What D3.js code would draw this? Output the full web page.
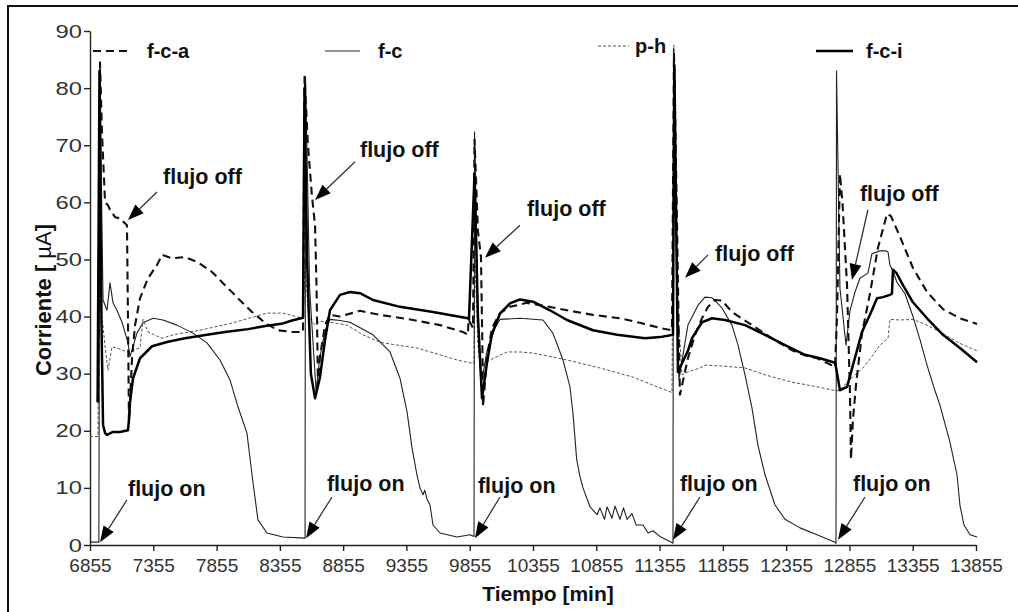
<!DOCTYPE html>
<html>
<head>
<meta charset="utf-8">
<script src="https://cdn.jsdelivr.net/npm/d3@7"></script>
<style>
  body { margin: 0; background: #fff; }
  svg { display: block; }
</style>
</head>
<body>
<svg id="chart" width="1018" height="612"></svg>
<script>
// Tick values
const xTicks = [6855, 7355, 7855, 8355, 8855, 9355, 9855, 10355, 10855, 11355, 11855, 12355, 12855, 13355, 13855];
const yTicks = [0, 10, 20, 30, 40, 50, 60, 70, 80, 90];

// Series: [tiempo (min), corriente (µA)]
const fca = [
  [6920, 25], [6934, 84.5], [6950, 72], [6974, 60], [6997, 59.5], [7013, 58.7], [7053, 57.4], [7092, 57.2],
  [7147, 56], [7155, 40], [7163, 21.5], [7171, 25], [7187, 32.7], [7211, 38.5], [7250, 43.2], [7313, 46.7],
  [7384, 49], [7424, 50.8], [7503, 50.2], [7606, 50.4], [7708, 49.5], [7819, 47.8], [7922, 45.5], [8024, 43.2],
  [8135, 40.8], [8238, 38.9], [8340, 37.6], [8451, 37.3], [8538, 37.3], [8550, 82], [8577, 70], [8609, 61],
  [8633, 56], [8645, 45], [8656, 28], [8672, 33], [8712, 38.5], [8751, 40.3], [8830, 40], [8988, 41],
  [9146, 40.3], [9407, 39.4], [9620, 38.5], [9802, 37.3], [9841, 36.8], [9845, 39.5], [9881, 38], [9893, 71],
  [9920, 55], [9944, 50.4], [9955, 35], [9960, 24.2], [9992, 33], [10031, 38], [10094, 40.6], [10173, 41.7],
  [10307, 42.4], [10410, 42], [10623, 41.1], [10829, 40.3], [11042, 39.7], [11200, 38.9], [11358, 38],
  [11453, 37.6], [11469, 86], [11490, 60], [11508, 35], [11516, 26.3], [11579, 32.7], [11635, 36.8],
  [11690, 39.7], [11738, 41.7], [11793, 42.9], [11848, 42.8], [11927, 40.8], [12085, 38.5], [12243, 36.2],
  [12401, 34.1], [12504, 33.2], [12599, 32.7], [12741, 31.2], [12757, 40], [12780, 65], [12800, 60],
  [12836, 45.5], [12859, 26.8], [12867, 15], [12883, 22], [12907, 28], [12954, 37], [13017, 44], [13080, 52],
  [13152, 58], [13183, 57.6], [13254, 54], [13357, 48.5], [13468, 44.3], [13594, 41.3], [13728, 39.7], [13863, 38.7]
];

const fc = [
  [6855, 0.5], [6925, 0.5], [6934, 84], [6950, 55], [6958, 42.9], [6989, 41.1], [7013, 45.9], [7037, 42.4],
  [7068, 41.1], [7108, 39], [7155, 35.4], [7171, 33], [7226, 37.1], [7274, 38.9], [7353, 39.7], [7432, 39.4],
  [7542, 38.5], [7669, 37.1], [7779, 35.4], [7882, 32.4], [7961, 28.9], [8024, 24.2], [8095, 19.6],
  [8143, 10.9], [8182, 4.4], [8253, 2.1], [8380, 1.4], [8554, 1.2], [8558, 82], [8590, 45], [8641, 27],
  [8672, 33], [8712, 37.5], [8751, 39.5], [8830, 39.3], [8909, 39], [9091, 36.8], [9225, 33.8], [9304, 29.2],
  [9360, 23.3], [9399, 17], [9438, 12.3], [9462, 10], [9486, 8.8], [9500, 9.6], [9518, 8], [9541, 7],
  [9565, 3.5], [9620, 2.1], [9755, 1.4], [9857, 1.8], [9889, 1.5], [9893, 72.3], [9920, 40], [9944, 28],
  [9992, 34], [10055, 38], [10094, 39.5], [10252, 39.7], [10434, 39.4], [10512, 37.1], [10592, 32.4],
  [10647, 27.7], [10671, 23], [10700, 15], [10726, 12], [10750, 10], [10805, 6.7], [10861, 5.3], [10884, 6.5],
  [10920, 4.5], [10940, 6.7], [10979, 4.7], [11003, 6.8], [11042, 4.5], [11070, 6.5], [11098, 4.5],
  [11137, 5.5], [11170, 3.5], [11224, 3.5], [11264, 2.1], [11303, 2.5], [11358, 1.5], [11437, 0.6],
  [11461, 0.3], [11465, 87], [11490, 50], [11508, 29], [11579, 38.5], [11659, 42], [11714, 43.4],
  [11769, 43.3], [11848, 41.5], [11927, 38.5], [11975, 35], [12030, 29.8], [12085, 24], [12132, 17.5],
  [12188, 12.3], [12267, 7], [12346, 4.5], [12464, 3], [12599, 1.8], [12741, 0.5], [12749, 0.3], [12753, 83],
  [12780, 45], [12828, 35], [12859, 41], [12899, 44.3], [12938, 46.7], [13001, 47.6], [13033, 51],
  [13096, 51.5], [13144, 51.5], [13160, 51.3], [13175, 49], [13199, 48], [13230, 46], [13294, 44],
  [13357, 40], [13412, 36], [13468, 31.5], [13531, 27], [13570, 24.5], [13649, 18], [13705, 12.3],
  [13728, 7], [13760, 3.5], [13808, 1.8], [13863, 1.4]
];

const ph = [
  [6855, 19], [6918, 19], [6926, 60], [6950, 40], [6974, 34.7], [6997, 30.6], [7029, 34.7], [7068, 34.5],
  [7147, 33.8], [7250, 34.5], [7274, 39.5], [7313, 37.3], [7424, 36.2], [7511, 36.8], [7724, 37.6],
  [7985, 38.9], [8253, 40.6], [8380, 40.6], [8538, 39.7], [8554, 50], [8580, 40], [8633, 38.5], [8672, 39.2],
  [8751, 39], [8885, 38.5], [9012, 36.8], [9146, 35.5], [9280, 35], [9438, 34.5], [9620, 33.3], [9755, 32.4],
  [9857, 31.9], [9889, 31.8], [9897, 50], [9920, 35], [9936, 31.2], [10015, 32.4], [10150, 33.8],
  [10252, 33.8], [10355, 33.6], [10623, 32.4], [10884, 31], [11145, 29.4], [11335, 27.7], [11453, 26.7],
  [11469, 87.5], [11490, 45], [11532, 29.8], [11579, 30.3], [11674, 31], [11714, 31.5], [11872, 31.3],
  [12030, 31], [12188, 29.8], [12401, 28.5], [12504, 28.1], [12622, 27.6], [12749, 27], [12780, 27.1],
  [12859, 29], [12962, 31], [13033, 33], [13096, 35], [13160, 36.2], [13175, 39.5], [13254, 39.4],
  [13357, 39.5], [13468, 38.5], [13594, 37], [13728, 35.3], [13863, 34]
];

const fci = [
  [6915, 25], [6930, 83], [6945, 40], [6958, 21], [6974, 19.6], [6989, 19.3], [7037, 19.8], [7092, 19.8],
  [7155, 20.1], [7163, 21.9], [7171, 25], [7195, 29.2], [7250, 32.7], [7345, 34.8], [7471, 35.6],
  [7606, 36.2], [7779, 36.8], [7922, 37.3], [8103, 37.8], [8253, 38.4], [8380, 38.8], [8451, 39.3],
  [8538, 39.8], [8550, 80], [8570, 50], [8600, 30], [8633, 25.7], [8672, 29.4], [8712, 35.9], [8751, 41.1],
  [8830, 43.8], [8909, 44.3], [8988, 44.1], [9091, 42.9], [9304, 41.7], [9565, 40.8], [9841, 39.7],
  [9849, 39.5], [9893, 65], [9920, 40], [9952, 25.7], [9992, 32], [10031, 37], [10094, 40.5], [10173, 42.3],
  [10252, 43], [10355, 42.6], [10489, 41.1], [10623, 39.4], [10829, 37.6], [11019, 36.8], [11240, 36.2],
  [11358, 36.4], [11461, 36.8], [11472, 84], [11490, 50], [11500, 30.3], [11579, 34], [11611, 36.2],
  [11690, 39], [11769, 39.7], [11872, 39.4], [12030, 38.5], [12188, 36.8], [12346, 35], [12504, 33.3],
  [12622, 32.7], [12741, 31.9], [12750, 31], [12780, 27.1], [12836, 27.7], [12883, 31.5], [12954, 37.3],
  [13017, 40.3], [13073, 43.2], [13120, 43.4], [13175, 43.8], [13191, 44], [13199, 48.2], [13230, 47.5],
  [13278, 45.5], [13357, 42.5], [13468, 39.7], [13594, 36.8], [13728, 34.5], [13863, 32]
];

// Annotations in data units: arrow tip, arrow tail, label anchor
const offNotes = [
  { tip: [7155, 56.9], tail: [7384, 61.8], at: [7432, 63.2] },
  { tip: [8633, 60.4], tail: [8949, 67.1], at: [8988, 67.9] },
  { tip: [9976, 50.3], tail: [10252, 56.0], at: [10307, 57.6] },
  { tip: [11556, 46.8], tail: [11738, 50.8], at: [11793, 49.7] },
  { tip: [12875, 46.4], tail: [13001, 58.7], at: [12938, 60.2] }
];
const onNotes = [
  { tip: [6934, 0.5], tail: [7147, 7.9], at: [7155, 8.6] },
  { tip: [8562, 1.2], tail: [8767, 8.4], at: [8727, 9.5] },
  { tip: [9897, 1.2], tail: [10094, 8.4], at: [9920, 9.1] },
  { tip: [11461, 0.9], tail: [11674, 8.4], at: [11516, 9.5] },
  { tip: [12765, 0.9], tail: [12978, 8.4], at: [12883, 9.5] }
];

const svg = d3.select("#chart");
const x = d3.scaleLinear().domain([6855, 13855]).range([90, 976]);
const y = d3.scaleLinear().domain([0, 90]).range([545, 31]);

// Outer frame
svg.append("rect")
  .attr("x", 8).attr("y", 6).attr("width", 1200).attr("height", 800)
  .attr("fill", "none").attr("stroke", "#111").attr("stroke-width", 2);

// Axes
const xAxis = svg.append("g")
  .attr("transform", "translate(0,545)")
  .call(d3.axisBottom(x).tickValues(xTicks).tickFormat(d3.format("d")).tickSize(6).tickPadding(8).tickSizeOuter(0));
xAxis.selectAll("text").attr("font-family", "Liberation Sans, Arial, sans-serif").attr("font-size", 19).attr("fill", "#333");

const yAxis = svg.append("g")
  .attr("transform", "translate(90,0)")
  .call(d3.axisLeft(y).tickValues(yTicks).tickSize(6).tickSizeOuter(0));
yAxis.selectAll("text")
  .attr("x", 0)
  .attr("transform", "translate(-8,0) scale(1.25,1)")
  .attr("font-family", "Liberation Sans, Arial, sans-serif").attr("font-size", 19).attr("fill", "#333");

svg.selectAll(".domain, .tick line").attr("stroke", "#222").attr("stroke-width", 1.4);

// Axis titles
svg.append("text")
  .attr("x", 548).attr("y", 601)
  .attr("text-anchor", "middle")
  .attr("font-family", "Liberation Sans, Arial, sans-serif").attr("font-weight", "bold").attr("font-size", 21)
  .attr("fill", "#111")
  .text("Tiempo [min]");

const yTitle = svg.append("text")
  .attr("transform", "translate(51,300) rotate(-90)")
  .attr("text-anchor", "middle")
  .attr("font-family", "Liberation Sans, Arial, sans-serif").attr("font-size", 22)
  .attr("fill", "#111");
yTitle.append("tspan").attr("font-weight", "bold").text("Corriente [ ");
yTitle.append("tspan").text("µA");
yTitle.append("tspan").attr("font-weight", "bold").text("]");

// Series
const line = d3.line().x(d => x(d[0])).y(d => y(d[1]));
const series = [
  { name: "p-h", data: ph, stroke: "#555", width: 1, dash: "3,2" },
  { name: "f-c", data: fc, stroke: "#222", width: 1.1, dash: null },
  { name: "f-c-a", data: fca, stroke: "#111", width: 2.1, dash: "8,5" },
  { name: "f-c-i", data: fci, stroke: "#000", width: 2.5, dash: null }
];
svg.append("g").selectAll("path")
  .data(series)
  .join("path")
  .attr("d", d => line(d.data))
  .attr("fill", "none")
  .attr("stroke", d => d.stroke)
  .attr("stroke-width", d => d.width)
  .attr("stroke-dasharray", d => d.dash)
  .attr("stroke-linejoin", "round");

// Legend
const legend = [
  { label: "f-c-a", x0: 93, x1: 131, tx: 147, ly: 51, ty: 58, s: series[2] },
  { label: "f-c", x0: 325, x1: 360, tx: 378, ly: 51, ty: 58, s: series[1] },
  { label: "p-h", x0: 598, x1: 629, tx: 635, ly: 46, ty: 53, s: series[0] },
  { label: "f-c-i", x0: 816, x1: 853, tx: 866, ly: 51, ty: 58, s: series[3] }
];
const lg = svg.append("g");
legend.forEach(l => {
  lg.append("line")
    .attr("x1", l.x0).attr("x2", l.x1).attr("y1", l.ly).attr("y2", l.ly)
    .attr("stroke", l.s.stroke).attr("stroke-width", l.s.width).attr("stroke-dasharray", l.s.dash);
  lg.append("text")
    .attr("x", l.tx).attr("y", l.ty)
    .attr("font-family", "Liberation Sans, Arial, sans-serif").attr("font-weight", "bold").attr("font-size", 20)
    .attr("fill", "#111")
    .text(l.label);
});

// Annotations with arrows
function arrow(g, note, label) {
  const tx = x(note.tip[0]), ty = y(note.tip[1]);
  const sx = x(note.tail[0]), sy = y(note.tail[1]);
  const ang = Math.atan2(ty - sy, tx - sx);
  const len = 16, hw = 6;
  const bx = tx - len * Math.cos(ang), by = ty - len * Math.sin(ang);
  g.append("line")
    .attr("x1", sx).attr("y1", sy).attr("x2", bx).attr("y2", by)
    .attr("stroke", "#333").attr("stroke-width", 1.3);
  const px = -Math.sin(ang) * hw, py = Math.cos(ang) * hw;
  g.append("polygon")
    .attr("points", [[tx, ty], [bx + px, by + py], [bx - px, by - py]].map(p => p.join(",")).join(" "))
    .attr("fill", "#000");
  g.append("text")
    .attr("x", x(note.at[0])).attr("y", y(note.at[1]))
    .attr("font-family", "Liberation Sans, Arial, sans-serif").attr("font-weight", "bold").attr("font-size", 21.5)
    .attr("fill", "#111")
    .text(label);
}
const ag = svg.append("g");
offNotes.forEach(n => arrow(ag, n, "flujo off"));
onNotes.forEach(n => arrow(ag, n, "flujo on"));
</script>
</body>
</html>
